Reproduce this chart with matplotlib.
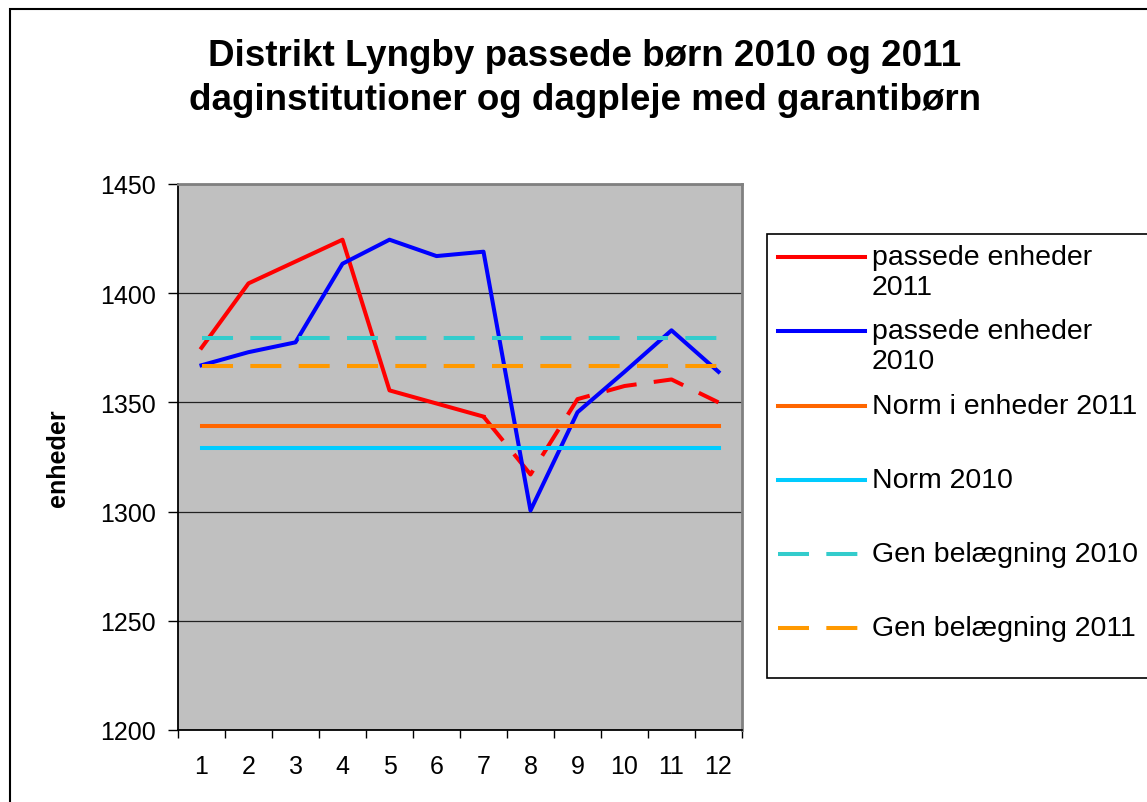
import matplotlib
matplotlib.use("Agg")
import matplotlib.pyplot as plt
from matplotlib.lines import Line2D
from matplotlib.patches import Rectangle
import numpy as np

# ---------------- data ----------------
months = [1, 2, 3, 4, 5, 6, 7, 8, 9, 10, 11, 12]
month_labels = ["1", "2", "3", "4", "5", "6", "7", "8", "9", "10", "11", "12"]
passede_2011 = [1375, 1404.5, 1414.5, 1424.5, 1355.5, 1349.5, 1343.5,
                1317, 1351.5, 1357.5, 1360.5, 1350]
passede_2010 = [1367, 1373, 1377.5, 1413.5, 1424.5, 1417, 1419,
                1300.5, 1345.5, 1364, 1383, 1364]
norm_2011 = 1339
norm_2010 = 1329
gen_2010 = 1379.5
gen_2011 = 1366.5
n_actual_2011 = 7          # months drawn solid; the rest dashed
y_ticks = [1200, 1250, 1300, 1350, 1400, 1450]

title_lines = ["Distrikt Lyngby passede børn 2010 og 2011",
               "daginstitutioner og dagpleje med garantibørn"]
legend_labels = [["passede enheder", "2011"],
                 ["passede enheder", "2010"],
                 ["Norm i enheder 2011"],
                 ["Norm 2010"],
                 ["Gen belægning 2010"],
                 ["Gen belægning 2011"]]

# ---------------- styling ----------------
plt.rcParams['font.family'] = ['Liberation Sans', 'DejaVu Sans']
C_RED = '#FF0000'
C_BLUE = '#0000FF'
C_NORM11 = '#FF6600'
C_NORM10 = '#00CCFF'
C_GEN10 = '#33CCCC'
C_GEN11 = '#FF9900'
LW = 2.9
DASH = (7.7, 4.3)

W, H = 1147, 803
fig = plt.figure(figsize=(W / 100, H / 100), dpi=100)


def fx(x):
    return x / W


def fy(y):
    return 1 - y / H


ax = fig.add_axes([fx(178), fy(731), fx(742) - fx(178), fy(185) - fy(731)])
ax.set_facecolor('#C0C0C0')

n = len(months)
ax.plot(months[:n_actual_2011], passede_2011[:n_actual_2011], color=C_RED, lw=LW)
ax.plot(months[n_actual_2011 - 1:], passede_2011[n_actual_2011 - 1:], color=C_RED,
        lw=LW, dashes=DASH)
ax.plot(months, passede_2010, color=C_BLUE, lw=LW)
ax.plot(months, [norm_2011] * n, color=C_NORM11, lw=LW)
ax.plot(months, [norm_2010] * n, color=C_NORM10, lw=LW)
ax.plot(months, [gen_2010] * n, color=C_GEN10, lw=LW, dashes=DASH)
ax.plot(months, [gen_2011] * n, color=C_GEN11, lw=LW, dashes=DASH)

ax.set_xlim(0.5, 12.5)
ax.set_ylim(1200, 1450)
ax.set_yticks(y_ticks)
ax.set_xticks(np.arange(0.5, 12.6, 1.0))
ax.set_xticklabels([])
ax.set_xticks(months, minor=True)
ax.set_xticklabels(month_labels, minor=True)
ax.tick_params(axis='x', which='major', direction='out', length=6, width=1, color='black')
ax.tick_params(axis='x', which='minor', length=0, pad=17, labelsize=18)
ax.tick_params(axis='y', direction='out', length=7, width=1, color='black', pad=9,
               labelsize=18)
ax.yaxis.grid(True, color='#222222', lw=0.9)
ax.set_axisbelow(True)
for s in ['left', 'bottom']:
    ax.spines[s].set_color('black')
    ax.spines[s].set_linewidth(1.3)
for s in ['top', 'right']:
    ax.spines[s].set_color('#808080')
    ax.spines[s].set_linewidth(2)

# y label
fig.text(fx(58), fy(458), "enheder", rotation=90, ha='center', va='center',
         fontsize=18, fontweight='bold')

# title
fig.text(fx(585), fy(57), title_lines[0], ha='center', va='center',
         fontsize=26.5, fontweight='bold')
fig.text(fx(585), fy(100), title_lines[1], ha='center', va='center',
         fontsize=26.5, fontweight='bold')

# outer chart border
fig.add_artist(Rectangle((fx(10), -0.05), 1.2, fy(10) + 0.05, transform=fig.transFigure,
                         fill=False, ec='black', lw=1.5))

# legend (drawn manually to match layout)
fig.add_artist(Rectangle((fx(767), fy(679)), fx(1170) - fx(767), fy(235) - fy(679),
                         transform=fig.transFigure, fc='white', ec='black', lw=1.2))
leg_styles = [(C_RED, None), (C_BLUE, None), (C_NORM11, None), (C_NORM10, None),
              (C_GEN10, DASH), (C_GEN11, DASH)]
row_y = [258, 332, 407, 481, 555, 629]
for (col, dash), lab, yy in zip(leg_styles, legend_labels, row_y):
    ln = Line2D([fx(778), fx(865)], [fy(yy), fy(yy)], transform=fig.transFigure,
                color=col, lw=LW)
    if dash is not None:
        ln.set_dashes(dash)
    fig.add_artist(ln)
    for k, txt in enumerate(lab):
        fig.text(fx(872), fy(yy + 30 * k), txt, ha='left', va='center', fontsize=20.5)

fig.savefig("out.png", dpi=100)
